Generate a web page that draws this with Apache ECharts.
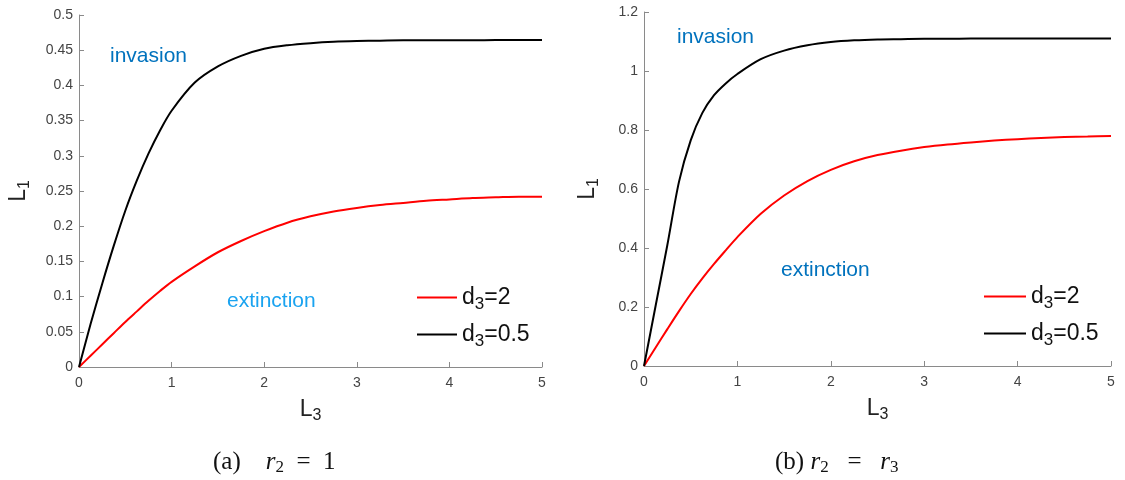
<!DOCTYPE html>
<html>
<head>
<meta charset="utf-8">
<script src="https://cdn.jsdelivr.net/npm/echarts@6/dist/echarts.min.js"></script>
<style>
  html, body { margin: 0; padding: 0; background: #fff; }
  #main { width: 1125px; height: 480px; }
</style>
</head>
<body>
<div id="main"></div>
<script>
// L3 sample positions (shared by both panels), denser where the curves bend
var l3Ary = [0, 0.125, 0.25, 0.375, 0.5, 0.625, 0.75, 0.875, 1, 1.25, 1.5, 1.75, 2, 2.25, 2.5, 2.75, 3, 3.25, 3.5, 3.75, 4, 4.25, 4.5, 4.75, 5];

// (a) r2 = 1
var aRedAry = [0, 0.016, 0.032, 0.048, 0.064, 0.079, 0.094, 0.108, 0.121, 0.143, 0.163, 0.179, 0.193, 0.205, 0.214, 0.221, 0.226, 0.230, 0.233, 0.236, 0.238, 0.240, 0.241, 0.242, 0.242];
var aBlackAry = [0, 0.061, 0.118, 0.172, 0.222, 0.265, 0.303, 0.336, 0.364, 0.404, 0.427, 0.442, 0.452, 0.457, 0.460, 0.462, 0.463, 0.4635, 0.464, 0.464, 0.464, 0.464, 0.4645, 0.4645, 0.4645];

// (b) r2 = r3
var bRedAry = [0, 0.063, 0.125, 0.186, 0.244, 0.297, 0.346, 0.392, 0.437, 0.516, 0.578, 0.627, 0.665, 0.694, 0.715, 0.730, 0.742, 0.751, 0.758, 0.764, 0.769, 0.773, 0.776, 0.778, 0.780];
var bBlackAry = [0, 0.205, 0.410, 0.625, 0.765, 0.858, 0.918, 0.958, 0.990, 1.040, 1.069, 1.087, 1.098, 1.104, 1.107, 1.108, 1.109, 1.109, 1.110, 1.110, 1.110, 1.110, 1.110, 1.110, 1.110];

var legendNames = ['d3=2', 'd3=0.5'];
var aYTicks = { min: 0, max: 0.5, interval: 0.05 };
var bYTicks = { min: 0, max: 1.2, interval: 0.2 };

function pairs(xs, ys) {
    var out = [];
    for (var i = 0; i < xs.length; i++) out.push([xs[i], ys[i]]);
    return out;
}

var subRich = {
    n: { fontSize: 23, fontFamily: 'Liberation Sans', color: '#222' },
    s: { fontSize: 16, fontFamily: 'Liberation Sans', color: '#222', padding: [13, 0, 0, 0] }
};

function xAxisCfg(idx) {
    return {
        type: 'value', gridIndex: idx, min: 0, max: 5, interval: 1,
        name: '{n|L}{s|3}', nameLocation: 'middle', nameGap: 28,
        nameTextStyle: { rich: subRich },
        axisLine: { lineStyle: { color: '#8a8a8a', width: 1 } },
        axisTick: { inside: true, length: 5, lineStyle: { color: '#8a8a8a' } },
        axisLabel: { color: '#444', fontSize: 14, fontFamily: 'Liberation Sans', margin: 9 },
        splitLine: { show: false }
    };
}

function yAxisCfg(idx, ticks, gap) {
    return {
        type: 'value', gridIndex: idx, min: ticks.min, max: ticks.max, interval: ticks.interval,
        name: '{n|L}{s|1}', nameLocation: 'middle', nameGap: gap, nameRotate: 90,
        nameTextStyle: { rich: subRich },
        axisLine: { show: true, lineStyle: { color: '#8a8a8a', width: 1 } },
        axisTick: { show: true, inside: true, length: 5, lineStyle: { color: '#8a8a8a' } },
        axisLabel: { color: '#444', fontSize: 14, fontFamily: 'Liberation Sans', margin: 6 },
        splitLine: { show: false }
    };
}

function lineSeries(name, idx, ys, color) {
    return {
        name: name, type: 'line', xAxisIndex: idx, yAxisIndex: idx,
        data: pairs(l3Ary, ys),
        smooth: 0.3, showSymbol: false, symbol: 'none',
        lineStyle: { color: color, width: 2 },
        itemStyle: { color: color },
        silent: true
    };
}

var legendRich = {
    n: { fontSize: 23, fontFamily: 'Liberation Sans', color: '#111' },
    s: { fontSize: 17, fontFamily: 'Liberation Sans', color: '#111', padding: [13, 0, 0, 0] }
};
function legendFmt(name) {
    var parts = name.split('3');
    return '{n|' + parts[0] + '}{s|3}{n|' + parts[1] + '}';
}

var capRich = {
    n: { fontSize: 25, fontFamily: 'Liberation Serif', color: '#111' },
    i: { fontSize: 25, fontFamily: 'Liberation Serif', fontStyle: 'italic', color: '#111' },
    s: { fontSize: 17, fontFamily: 'Liberation Serif', color: '#111', padding: [11, 0, 0, 0] }
};

var chartDom = document.getElementById('main');
var myChart = echarts.init(chartDom, null, { renderer: 'canvas' });
var option = {
    backgroundColor: '#fff',
    animation: false,
    grid: [
        { left: 79, top: 15, width: 463, height: 352 },
        { left: 644, top: 12, width: 467, height: 354 }
    ],
    xAxis: [xAxisCfg(0), xAxisCfg(1)],
    yAxis: [yAxisCfg(0, aYTicks, 46), yAxisCfg(1, bYTicks, 42)],
    legend: [
        {
            data: legendNames, orient: 'vertical', left: 412, top: 281,
            itemWidth: 40, itemHeight: 2, itemGap: 10.5, icon: 'rect',
            formatter: legendFmt, textStyle: { rich: legendRich }, selectedMode: false
        },
        {
            data: legendNames, orient: 'vertical', left: 979, top: 280,
            itemWidth: 42, itemHeight: 2, itemGap: 10.5, icon: 'rect',
            formatter: legendFmt, textStyle: { rich: legendRich }, selectedMode: false
        }
    ],
    title: [
        { text: '{n|(a)    }{i|r}{s|2}{n|  =  1}', left: 208, top: 443,
          textStyle: { fontWeight: 'normal', rich: capRich } },
        { text: '{n|(b) }{i|r}{s|2}{n|   =   }{i|r}{s|3}', left: 770, top: 443,
          textStyle: { fontWeight: 'normal', rich: capRich } }
    ],
    graphic: [
        { type: 'text', left: 110, top: 46, style: { text: 'invasion', fill: '#0072BD', font: '21px "Liberation Sans"' } },
        { type: 'text', left: 227, top: 291, style: { text: 'extinction', fill: '#1AA3F0', font: '21px "Liberation Sans"' } },
        { type: 'text', left: 677, top: 27, style: { text: 'invasion', fill: '#0072BD', font: '21px "Liberation Sans"' } },
        { type: 'text', left: 781, top: 260, style: { text: 'extinction', fill: '#0072BD', font: '21px "Liberation Sans"' } }
    ],
    series: [
        lineSeries('d3=2', 0, aRedAry, '#ff0000'),
        lineSeries('d3=0.5', 0, aBlackAry, '#000000'),
        lineSeries('d3=2', 1, bRedAry, '#ff0000'),
        lineSeries('d3=0.5', 1, bBlackAry, '#000000')
    ]
};

myChart.setOption(option);
</script>
</body>
</html>
